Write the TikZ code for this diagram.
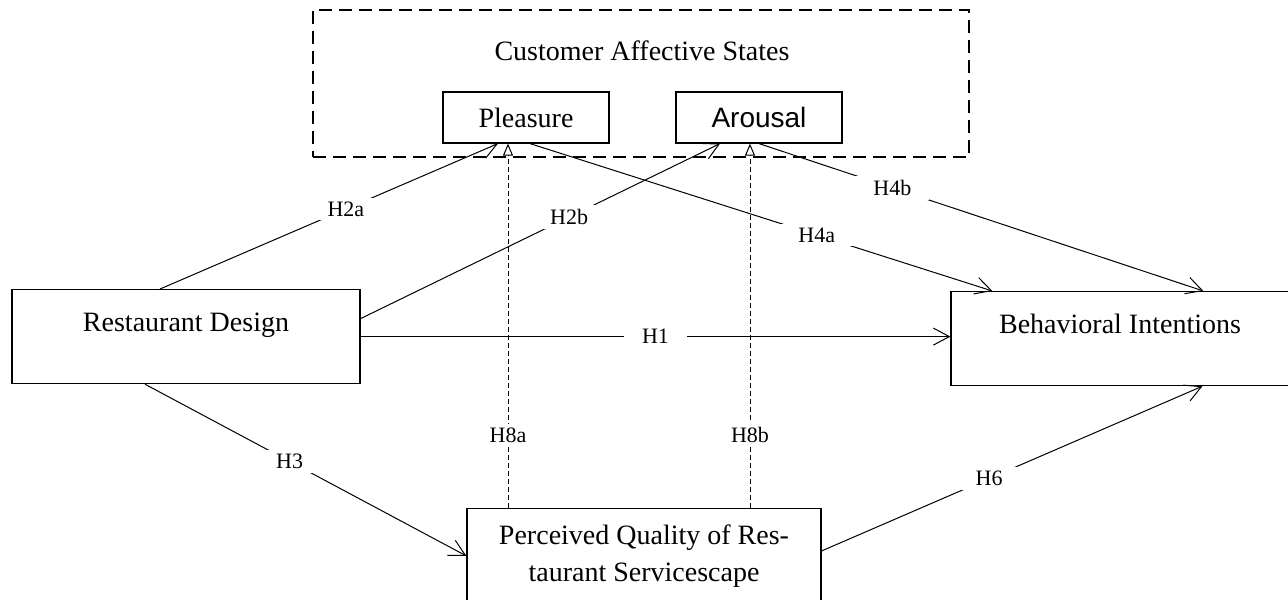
\documentclass[tikz,border=0pt]{standalone}
\usepackage{fontspec}
\setmainfont{Liberation Serif}
\newfontfamily\arialfont{Liberation Sans}
\usetikzlibrary{arrows.meta}

\begin{document}
\begin{tikzpicture}
[every node/.style={inner sep=0pt, font=\fontsize{14}{18.5}\selectfont},
 construct/.style={rectangle, draw=black, line width=0.6pt},
 group/.style={rectangle, draw=black, line width=1.2pt, dash pattern=on 6.5pt off 3.5pt},
 hyp/.style={fill=white, inner xsep=9pt, inner ysep=2pt, font=\fontsize{11}{13}\selectfont},
 effect/.style={line width=0.5pt, -{Straight Barb[length=8pt, width=8.5pt]}},
 moderate/.style={line width=0.5pt, dash pattern=on 2.5pt off 1.5pt, -{Triangle[open, length=6pt, width=5pt]}}]
\useasboundingbox (0pt, 0pt) rectangle (644pt, -299.5pt);
\clip (0pt, 0pt) rectangle (644pt, -299.5pt);
\node (affect) [group, minimum width=328pt, minimum height=73.5pt] at (320.5pt, -41.75pt) {};
\node (title) at (321pt, -25.5pt) {Customer Affective States};
\node (pleasure) [construct, minimum width=83pt, minimum height=25.5pt] at (263pt, -58.75pt) {Pleasure};
\node (arousal) [construct, minimum width=83pt, minimum height=25.5pt] at (379.5pt, -58.75pt) {\arialfont Arousal};
\node (design) [construct, anchor=north, minimum width=174pt, text height=21pt, text depth=26pt] at (93pt, -144.5pt) {Restaurant Design};
\node (behav) [construct, anchor=north, minimum width=169pt, text height=21pt, text depth=26pt] at (560pt, -145.5pt) {Behavioral Intentions};
\node (percv) [construct, anchor=north, minimum width=177pt, inner ysep=8pt, align=center] at (322pt, -254pt) {Perceived Quality of Res-\\taurant Servicescape};
\coordinate (pl8) at ([xshift=-9pt]pleasure.south);
\coordinate (ar8) at ([xshift=-4.5pt]arousal.south);
\draw [effect] (design.east) to node [hyp, pos=0.5] {H1} (design.east -| behav.west);
\draw [effect] ([xshift=-13pt]design.north) to node [hyp, pos=0.55] {H2a} ([xshift=-14pt]pleasure.south);
\draw [effect] ([yshift=9pt]design.east) to node [hyp, pos=0.58] {H2b} ([xshift=-19.5pt]arousal.south);
\draw [effect] ([xshift=-20.5pt]design.south) to node [hyp, pos=0.45] {H3} (percv.west);
\draw [effect] ([xshift=2pt]pleasure.south) to node [hyp, pos=0.62] {H4a} ([xshift=21pt]behav.north west);
\draw [effect] (arousal.south) to node [hyp, pos=0.3] {H4b} ([xshift=126.5pt]behav.north west);
\draw [effect] ([yshift=2.5pt]percv.east) to node [hyp, pos=0.44] {H6} ([xshift=126pt]behav.south west);
\draw [moderate] (pl8 |- percv.north) to node [hyp, pos=0.2] {H8a} (pl8);
\draw [moderate] (ar8 |- percv.north) to node [hyp, pos=0.2] {H8b} (ar8);
\end{tikzpicture}
\end{document}
